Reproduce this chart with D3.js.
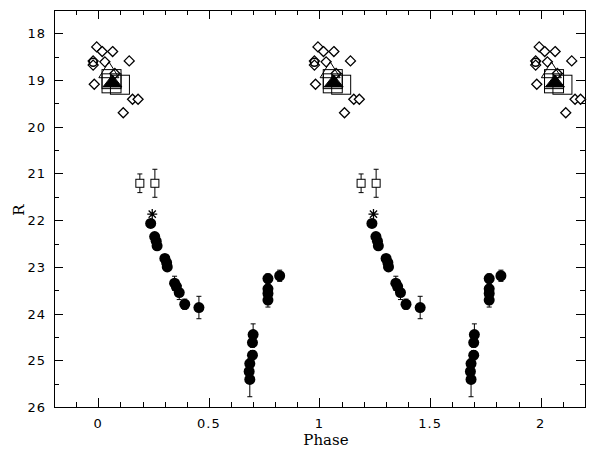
<!DOCTYPE html>
<html>
<head>
<meta charset="utf-8">
<script src="https://cdn.jsdelivr.net/npm/d3@7"></script>
<style>
  body { margin: 0; background: #fff; }
  svg { display: block; }
  .tick-label { font-family: "DejaVu Sans", sans-serif; font-size: 13px; fill: #000; letter-spacing: 1px; }
  .title { font-family: "DejaVu Serif", serif; font-size: 15px; fill: #000; }
</style>
</head>
<body>
<script>
// phase, R  (light curve folded, repeated at +1 / +2 cycles)
var diamonds = [[-0.007,18.29],[0.018,18.39],[0.065,18.39],[-0.023,18.59],[-0.023,18.68],
                [0.030,18.61],[0.140,18.59],[-0.018,19.09],[0.075,18.86],[0.155,19.41],
                [0.180,19.41],[0.113,19.70]];
var circles = [[-0.023,18.62]];
var openTri = [[0.048,18.80]];
var filledTri = [[0.064,19.04]];
var bigSquares = [[0.060,19.07],[0.098,19.10],[0.060,18.98]];
// phase, R, error
var smallSquares = [[0.188,21.21,0.20],[0.256,21.21,0.30]];
var stars = [[0.244,21.87]];
var dots = [[0.237,22.07,0.05],[0.255,22.35,0.05],[0.262,22.45,0.05],[0.266,22.55,0.05],
            [0.301,22.82,0.05],[0.309,22.91,0.05],[0.312,23.00,0.05],
            [0.345,23.35,0.15],[0.353,23.42,0.08],[0.366,23.55,0.15],
            [0.391,23.80,0.11],[0.455,23.87,0.24],
            [0.700,24.45,0.23],[0.697,24.62,0.10],[0.697,24.89,0.10],[0.685,25.07,0.10],
            [0.682,25.24,0.10],[0.685,25.41,0.37],
            [0.767,23.25,0.10],[0.767,23.47,0.10],[0.767,23.57,0.10],[0.767,23.71,0.15],
            [0.820,23.19,0.12]];
var xTicks = [0, 0.5, 1, 1.5, 2];
var yTicks = [18, 19, 20, 21, 22, 23, 24, 25, 26];

var width = 597, height = 449;
var plotL = 54, plotR = 585, plotT = 10, plotB = 407;

var x = d3.scaleLinear().domain([-0.2, 2.2]).range([plotL, plotR]);
var y = d3.scaleLinear().domain([17.5, 26]).range([plotT, plotB]);

var svg = d3.select("body").append("svg").attr("width", width).attr("height", height);

// repeat a series at phase + k
function repeat(data, offsets) {
  var out = [];
  offsets.forEach(function(k) {
    data.forEach(function(d) { out.push([d[0] + k].concat(d.slice(1))); });
  });
  return out;
}

// frame + ticks (inward, all four sides)
var axes = svg.append("g").attr("stroke", "#000").attr("stroke-width", 1).attr("fill", "none");
axes.append("rect").attr("x", plotL + 0.5).attr("y", plotT + 0.5)
  .attr("width", plotR - plotL).attr("height", plotB - plotT);

d3.range(-2, 23).forEach(function(i) {
  var v = i / 10, px = Math.round(x(v)) + 0.5, len = (i % 5 === 0) ? 9 : 5;
  axes.append("line").attr("x1", px).attr("x2", px).attr("y1", plotB).attr("y2", plotB - len);
  axes.append("line").attr("x1", px).attr("x2", px).attr("y1", plotT).attr("y2", plotT + len);
});
d3.range(36, 53).forEach(function(i) {
  var v = i / 2, py = Math.round(y(v)) + 0.5, len = (i % 2 === 0) ? 9 : 5;
  axes.append("line").attr("y1", py).attr("y2", py).attr("x1", plotL).attr("x2", plotL + len);
  axes.append("line").attr("y1", py).attr("y2", py).attr("x1", plotR).attr("x2", plotR - len);
});

svg.selectAll(".xl").data(xTicks).enter().append("text")
  .attr("class", "tick-label").attr("text-anchor", "middle")
  .attr("x", function(d) { return x(d); }).attr("y", 428)
  .text(function(d) { return d; });
svg.selectAll(".yl").data(yTicks).enter().append("text")
  .attr("class", "tick-label").attr("text-anchor", "end")
  .attr("x", 46).attr("y", function(d) { return y(d) + 5; })
  .text(function(d) { return d; });

svg.append("text").attr("class", "title").attr("text-anchor", "middle")
  .attr("x", 326).attr("y", 445).text("Phase");
svg.append("text").attr("class", "title").attr("text-anchor", "middle")
  .attr("transform", "translate(24,210) rotate(-90)").text("R");

var marks = svg.append("g").attr("stroke", "#000").attr("stroke-width", 1);

// error bars
function errBars(data) {
  marks.selectAll(null).data(data).enter().append("path")
    .attr("fill", "none")
    .attr("d", function(d) {
      var px = x(d[0]), y1 = y(d[1] - d[2]), y2 = y(d[1] + d[2]);
      return "M" + px + "," + y1 + "V" + y2 +
             "M" + (px - 2.5) + "," + y1 + "h5M" + (px - 2.5) + "," + y2 + "h5";
    });
}

var allDots = repeat(dots, [0, 1]);
errBars(allDots);
marks.selectAll(null).data(allDots).enter().append("circle")
  .attr("cx", function(d) { return x(d[0]); }).attr("cy", function(d) { return y(d[1]); })
  .attr("r", 5.5).attr("fill", "#000").attr("stroke", "none");

var allSq = repeat(smallSquares, [0, 1]);
errBars(allSq);
marks.selectAll(null).data(allSq).enter().append("rect")
  .attr("x", function(d) { return x(d[0]) - 4; }).attr("y", function(d) { return y(d[1]) - 4; })
  .attr("width", 8).attr("height", 8).attr("fill", "#fff");

marks.selectAll(null).data(repeat(stars, [0, 1])).enter().append("path")
  .attr("fill", "none").attr("stroke-width", 1.3)
  .attr("transform", function(d) { return "translate(" + x(d[0]) + "," + y(d[1]) + ")"; })
  .attr("d", "M-5,0H5M0,-5V5M-3.6,-3.6L3.6,3.6M-3.6,3.6L3.6,-3.6");

marks.selectAll(null).data(repeat(diamonds, [0, 1, 2])).enter().append("path")
  .attr("fill", "#fff").attr("stroke-width", 1.3)
  .attr("transform", function(d) { return "translate(" + x(d[0]) + "," + y(d[1]) + ")"; })
  .attr("d", "M0,-5L5,0L0,5L-5,0Z");

marks.selectAll(null).data(repeat(circles, [0, 1, 2])).enter().append("circle")
  .attr("cx", function(d) { return x(d[0]); }).attr("cy", function(d) { return y(d[1]); })
  .attr("r", 4).attr("fill", "none").attr("stroke-width", 1.5);

marks.selectAll(null).data(repeat(openTri, [0, 1, 2])).enter().append("path")
  .attr("fill", "none")
  .attr("transform", function(d) { return "translate(" + x(d[0]) + "," + y(d[1]) + ")"; })
  .attr("d", "M0,-9L10,7L-10,7Z");

marks.selectAll(null).data(repeat(bigSquares, [0, 1, 2])).enter().append("rect")
  .attr("fill", "none")
  .attr("x", function(d) { return x(d[0]) - 9.5; }).attr("y", function(d) { return y(d[1]) - 9.5; })
  .attr("width", 19).attr("height", 19);

marks.selectAll(null).data(repeat(filledTri, [0, 1, 2])).enter().append("path")
  .attr("fill", "#000")
  .attr("transform", function(d) { return "translate(" + x(d[0]) + "," + y(d[1]) + ")"; })
  .attr("d", "M0,-7L9.5,5L-9.5,5Z");
</script>
</body>
</html>
